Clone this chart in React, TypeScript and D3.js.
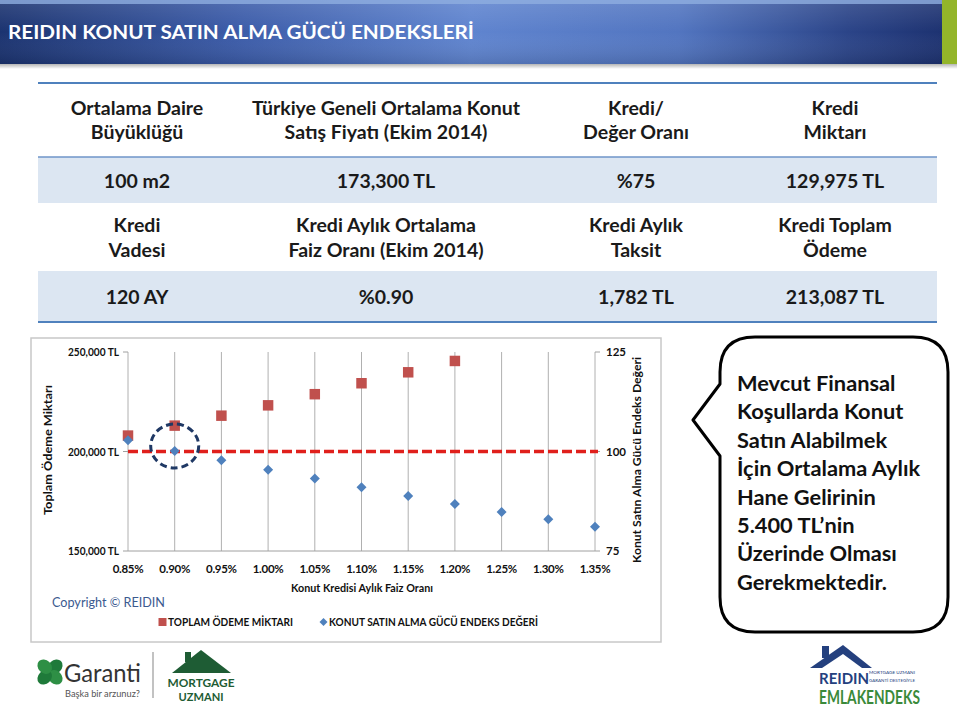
import React from "react";
import * as d3 from "d3";

const rates = [0.85, 0.9, 0.95, 1.0, 1.05, 1.1, 1.15, 1.2, 1.25, 1.3, 1.35];
const totalPayment = [208000, 213000, 218000, 223200, 228800, 234300, 239800, 245500];
const indexValue = [102.8, 100.1, 97.8, 95.4, 93.2, 91.0, 88.8, 86.8, 84.8, 83.0, 81.1];
const leftTicks = [150000, 200000, 250000];
const rightTicks = [75, 100, 125];
const thresholdIndex = 100;
const highlightRate = 0.9;

const tableHeaders1 = [
  ["Ortalama Daire", "Büyüklüğü"],
  ["Türkiye Geneli Ortalama Konut", "Satış Fiyatı (Ekim 2014)"],
  ["Kredi/", "Değer Oranı"],
  ["Kredi", "Miktarı"],
];
const tableValues1 = ["100 m2", "173,300 TL", "%75", "129,975 TL"];
const tableHeaders2 = [
  ["Kredi", "Vadesi"],
  ["Kredi Aylık  Ortalama", "Faiz Oranı (Ekim 2014)"],
  ["Kredi Aylık", "Taksit"],
  ["Kredi Toplam", "Ödeme"],
];
const tableValues2 = ["120 AY", "%0.90", "1,782 TL", "213,087 TL"];
const calloutLines = [
  "Mevcut Finansal",
  "Koşullarda Konut",
  "Satın Alabilmek",
  "İçin Ortalama Aylık",
  "Hane Gelirinin",
  "5.400 TL’nin",
  "Üzerinde Olması",
  "Gerekmektedir.",
];

const FONT = "Lato, 'Open Sans', sans-serif";
const colX = [137, 386, 636, 835];

export default function App() {
  const x = d3.scaleLinear().domain([0.85, 1.35]).range([128, 595]);
  const yL = d3.scaleLinear().domain([150000, 250000]).range([551, 352]);
  const yR = d3.scaleLinear().domain([75, 125]).range([551, 352]);
  const fmtL = (v: number) => d3.format(",")(v) + " TL";
  const fmtX = (v: number) => d3.format(".2f")(v) + "%";
  const sq = d3.symbol().type(d3.symbolSquare).size(110)();
  const dia = d3.symbol().type(d3.symbolSquare).size(50)();
  const sqSmall = d3.symbol().type(d3.symbolSquare).size(64)();
  const diaSmall = d3.symbol().type(d3.symbolSquare).size(32)();

  return (
    <svg
      width={960}
      height={712}
      style={{ position: "absolute", left: 0, top: 0, background: "#fff" }}
      fontFamily={FONT}
    >
      <defs>
        <linearGradient id="hdr" x1="0" x2="1" y1="0" y2="0">
          <stop offset="0" stopColor="#1b3370" />
          <stop offset="0.25" stopColor="#3b5ba8" />
          <stop offset="0.5" stopColor="#5f84cf" />
          <stop offset="0.72" stopColor="#5275c0" />
          <stop offset="0.9" stopColor="#2b4488" />
          <stop offset="1" stopColor="#1d3271" />
        </linearGradient>
        <linearGradient id="hdrV" x1="0" x2="0" y1="0" y2="1">
          <stop offset="0" stopColor="#ffffff" stopOpacity="0.12" />
          <stop offset="0.5" stopColor="#ffffff" stopOpacity="0" />
          <stop offset="1" stopColor="#000000" stopOpacity="0.12" />
        </linearGradient>
        <linearGradient id="shadow" x1="0" x2="0" y1="0" y2="1">
          <stop offset="0" stopColor="#000" stopOpacity="0.35" />
          <stop offset="1" stopColor="#000" stopOpacity="0" />
        </linearGradient>
      </defs>

      {/* Header */}
      <rect x={0} y={63} width={957} height={6} fill="url(#shadow)" />
      <rect x={0} y={0} width={942} height={64} fill="url(#hdr)" />
      <rect x={0} y={0} width={942} height={64} fill="url(#hdrV)" />
      <rect x={0} y={0} width={942} height={4} fill="#8eaee0" opacity={0.8} />
      <rect x={942} y={0} width={15} height={64} fill="#93b52a" />
      <text x={8} y={39} fill="#fff" fontSize={19} fontWeight="bold" textLength={466} lengthAdjust="spacingAndGlyphs">
        REIDIN KONUT SATIN ALMA GÜCÜ ENDEKSLERİ
      </text>

      {/* Table */}
      <rect x={38} y={157} width={899} height={46} fill="#dce6f2" />
      <rect x={38} y={271} width={899} height={50} fill="#dce6f2" />
      <line x1={38} x2={937} y1={83} y2={83} stroke="#4f81bd" strokeWidth={2} />
      <line x1={38} x2={937} y1={157} y2={157} stroke="#6f94c8" strokeWidth={1.5} />
      <line x1={38} x2={937} y1={322} y2={322} stroke="#4f81bd" strokeWidth={2} />
      <g fontSize={19.5} fill="#1a1a1a" textAnchor="middle" fontWeight="bold">
        {tableHeaders1.map((lines, i) => (
          <g key={"h1" + i}>
            <text x={colX[i]} y={115}>{lines[0]}</text>
            <text x={colX[i]} y={139}>{lines[1]}</text>
          </g>
        ))}
        {tableValues1.map((v, i) => (
          <text key={"v1" + i} x={colX[i]} y={188}>{v}</text>
        ))}
        {tableHeaders2.map((lines, i) => (
          <g key={"h2" + i}>
            <text x={colX[i]} y={232}>{lines[0]}</text>
            <text x={colX[i]} y={257}>{lines[1]}</text>
          </g>
        ))}
        {tableValues2.map((v, i) => (
          <text key={"v2" + i} x={colX[i]} y={304}>{v}</text>
        ))}
      </g>

      {/* Chart frame */}
      <rect x={31} y={338} width={630} height={304} fill="#fff" stroke="#c8c8c8" strokeWidth={1.5} />

      {/* gridlines */}
      {rates.map((r) => (
        <line key={"g" + r} x1={x(r)} x2={x(r)} y1={yL(250000)} y2={yL(150000)} stroke="#b0b0b0" strokeWidth={1} />
      ))}
      <line x1={x(0.85)} x2={x(1.35)} y1={yL(150000)} y2={yL(150000)} stroke="#a0a0a0" strokeWidth={1} />
      {leftTicks.map((t) => (
        <g key={"lt" + t}>
          <line x1={x(0.85) - 5} x2={x(0.85)} y1={yL(t)} y2={yL(t)} stroke="#a0a0a0" />
          <text x={119} y={yL(t) + 4} fontSize={11} fontWeight="bold" textAnchor="end" fill="#111" textLength={51} lengthAdjust="spacingAndGlyphs">
            {fmtL(t)}
          </text>
        </g>
      ))}
      {rightTicks.map((t) => (
        <g key={"rt" + t}>
          <line x1={x(1.35)} x2={x(1.35) + 5} y1={yR(t)} y2={yR(t)} stroke="#a0a0a0" />
          <text x={606} y={yR(t) + 4} fontSize={11.5} fontWeight="bold" fill="#111">
            {t}
          </text>
        </g>
      ))}
      {rates.map((r) => (
        <text key={"xt" + r} x={x(r)} y={573} fontSize={11.5} fontWeight="bold" textAnchor="middle" fill="#111" letterSpacing={-0.3}>
          {fmtX(r)}
        </text>
      ))}
      <text x={362} y={592} fontSize={11.5} fontWeight="bold" textAnchor="middle" fill="#111" textLength={142} lengthAdjust="spacingAndGlyphs">
        Konut Kredisi Aylık Faiz Oranı
      </text>
      <text transform="translate(52,450) rotate(-90)" fontSize={12} fontWeight="bold" textAnchor="middle" fill="#111" textLength={130} lengthAdjust="spacingAndGlyphs">
        Toplam Ödeme Miktarı
      </text>
      <text transform="translate(641,460) rotate(-90)" fontSize={12} fontWeight="bold" textAnchor="middle" fill="#111" textLength={206} lengthAdjust="spacingAndGlyphs">
        Konut Satın Alma Gücü Endeks Değeri
      </text>

      {/* threshold line */}
      <line x1={x(0.85)} x2={x(1.35) + 3} y1={yR(thresholdIndex)} y2={yR(thresholdIndex)} stroke="#e0201c" strokeWidth={3.5} strokeDasharray="10 4" />

      {/* series */}
      {totalPayment.map((v, i) => (
        <path key={"s" + i} d={sq as string} transform={`translate(${x(rates[i])},${yL(v)})`} fill="#c0504d" />
      ))}
      {indexValue.map((v, i) => (
        <path key={"d" + i} d={dia as string} transform={`translate(${x(rates[i])},${yR(v)}) rotate(45)`} fill="#4f81bd" />
      ))}

      {/* highlight circle */}
      <ellipse cx={x(highlightRate)} cy={446} rx={24} ry={22} fill="none" stroke="#1f3864" strokeWidth={3} strokeDasharray="7 4" />

      {/* copyright + legend */}
      <text x={52} y={607} fontSize={14} fill="#3b5a8f" textLength={113} lengthAdjust="spacingAndGlyphs">
        Copyright © REIDIN
      </text>
      <path d={sqSmall as string} transform="translate(162.5,622)" fill="#c0504d" />
      <text x={168} y={626} fontSize={11} fontWeight="bold" fill="#111" textLength={125} lengthAdjust="spacingAndGlyphs">
        TOPLAM ÖDEME MİKTARI
      </text>
      <path d={diaSmall as string} transform="translate(323.5,622) rotate(45)" fill="#4f81bd" />
      <text x={329} y={626} fontSize={11} fontWeight="bold" fill="#111" textLength={209} lengthAdjust="spacingAndGlyphs">
        KONUT SATIN ALMA GÜCÜ ENDEKS DEĞERİ
      </text>

      {/* callout */}
      <path
        d="M 755 337 L 913 337 Q 948 337 948 372 L 948 597 Q 948 632 913 632 L 755 632 Q 720 632 720 597 L 720 456 L 693 420 L 720 384 L 720 372 Q 720 337 755 337 Z"
        fill="#fff"
        stroke="#000"
        strokeWidth={3}
        strokeLinejoin="round"
      />
      <g fontSize={21.8} fontWeight="bold" fill="#111">
        {calloutLines.map((l, i) => (
          <text key={"c" + i} x={737} y={391 + i * 28.4}>
            {l}
          </text>
        ))}
      </g>

      {/* Garanti logo */}
      <g transform="translate(50,672)">
        {[0, 90, 180, 270].map((a) => (
          <ellipse key={a} cx={0} cy={-7.5} rx={6.5} ry={8} fill={a % 180 === 0 ? "#1f7a3a" : "#2e8f45"} transform={`rotate(${a + 45})`} />
        ))}
      </g>
      <text x={64} y={682} fontSize={25} fill="#333" textLength={77} lengthAdjust="spacingAndGlyphs">Garanti</text>
      <text x={65} y={697} fontSize={9} fill="#555" textLength={75} lengthAdjust="spacingAndGlyphs">Başka bir arzunuz?</text>
      <line x1={153} x2={153} y1={652} y2={698} stroke="#999" strokeWidth={1.2} />

      {/* Mortgage Uzmanı */}
      <polygon points="172,673 201,650 231,673" fill="#1e5c34" />
      <rect x={185} y={652} width={6} height={10} fill="#1e5c34" />
      <text x={201} y={687} fontSize={11.5} fontWeight="bold" fill="#1e5c34" textAnchor="middle" textLength={67} lengthAdjust="spacingAndGlyphs">MORTGAGE</text>
      <text x={201} y={701} fontSize={10.5} fontWeight="bold" fill="#1e5c34" textAnchor="middle" textLength={45} lengthAdjust="spacingAndGlyphs">UZMANI</text>

      {/* REIDIN Emlakendeks */}
      <polygon points="810,668 843,645 872,668" fill="#24407e" />
      <rect x={822} y={646} width={7} height={12} fill="#24407e" />
      <polygon points="822,668 843,654 862,668" fill="#fff" />
      <text x={819} y={684} fontSize={15} fontWeight="bold" fill="#24407e">REIDIN</text>
      <text x={869} y={674} fontSize={4} fill="#24407e" textLength={46} lengthAdjust="spacingAndGlyphs">MORTGAGE UZMANI</text>
      <text x={869} y={682} fontSize={4} fill="#24407e" textLength={46} lengthAdjust="spacingAndGlyphs">GARANTİ DESTEĞİYLE</text>
      <text x={819} y={704} fontSize={18} fontWeight="bold" fill="#3a8a3a" textLength={101} lengthAdjust="spacingAndGlyphs">EMLAKENDEKS</text>
    </svg>
  );
}
